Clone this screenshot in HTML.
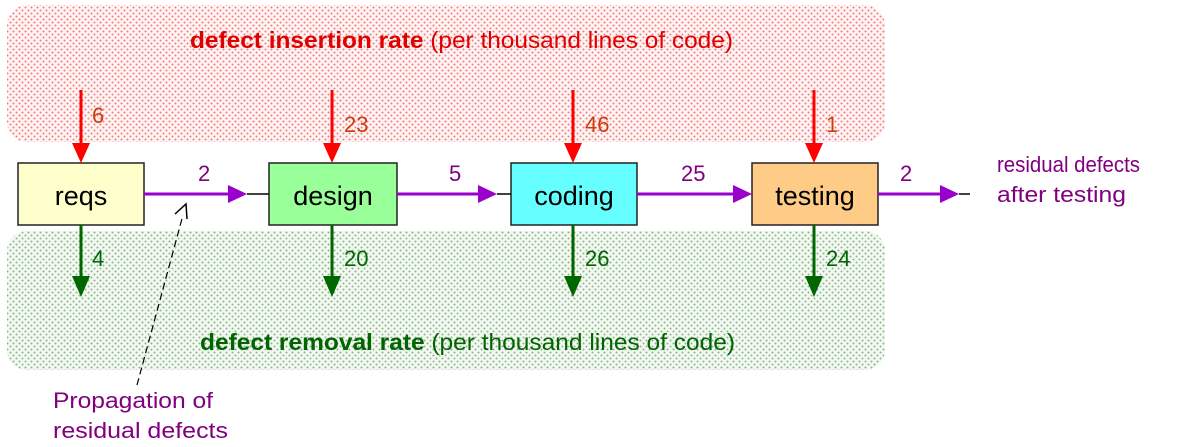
<!DOCTYPE html>
<html><head><style>html,body{margin:0;padding:0;background:#fff}svg{display:block}</style></head>
<body>
<svg width="1179" height="447" viewBox="0 0 1179 447" xmlns="http://www.w3.org/2000/svg" font-family="Liberation Sans, sans-serif">
<defs>
<pattern id="pr" width="6" height="6" patternUnits="userSpaceOnUse"><rect width="6" height="6" fill="#fff4f4"/><circle cx="1.5" cy="1.5" r="1" fill="#f27a7a"/><circle cx="4.5" cy="4.5" r="1" fill="#f27a7a"/></pattern>
<pattern id="pg" width="6" height="6" patternUnits="userSpaceOnUse"><rect width="6" height="6" fill="#f3f8f3"/><circle cx="1.5" cy="1.5" r="1" fill="#86b586"/><circle cx="4.5" cy="4.5" r="1" fill="#86b586"/></pattern>
</defs>
<rect x="7" y="5" width="878" height="137" rx="20" fill="url(#pr)"/>
<rect x="7" y="231" width="878" height="139" rx="20" fill="url(#pg)"/>
<text x="190" y="48" font-size="23" fill="#e00000" textLength="543" lengthAdjust="spacingAndGlyphs"><tspan font-weight="bold">defect insertion rate</tspan> (per thousand lines of code)</text>
<text x="200" y="350" font-size="23" fill="#006400" textLength="535" lengthAdjust="spacingAndGlyphs"><tspan font-weight="bold">defect removal rate</tspan> (per thousand lines of code)</text>

<g stroke="#222" stroke-width="1.5">
<rect x="18" y="163" width="126" height="62" fill="#ffffcc"/>
<rect x="269" y="163" width="128" height="62" fill="#99ff99"/>
<rect x="511" y="163" width="126" height="62" fill="#66ffff"/>
<rect x="752" y="163" width="126" height="62" fill="#ffcc88"/>
</g>
<g font-size="27" fill="#000" text-anchor="middle">
<text x="81" y="205">reqs</text><text x="333" y="205">design</text><text x="574" y="205">coding</text><text x="815" y="205">testing</text>
</g>

<g stroke="#ff0000" stroke-width="3"><line x1="81" y1="90" x2="81" y2="145"/><line x1="332" y1="90" x2="332" y2="145"/><line x1="573" y1="90" x2="573" y2="145"/><line x1="814" y1="90" x2="814" y2="145"/></g>
<g fill="#ff0000"><path d="M72,143h18l-9,20z"/><path d="M323,143h18l-9,20z"/><path d="M564,143h18l-9,20z"/><path d="M805,143h18l-9,20z"/></g>
<g stroke="#006600" stroke-width="3"><line x1="81" y1="225" x2="81" y2="278"/><line x1="332" y1="225" x2="332" y2="278"/><line x1="573" y1="225" x2="573" y2="278"/><line x1="814" y1="225" x2="814" y2="278"/></g>
<g fill="#006600"><path d="M72,276h18l-9,21z"/><path d="M323,276h18l-9,21z"/><path d="M564,276h18l-9,21z"/><path d="M805,276h18l-9,21z"/></g>
<g stroke="#9900cc" stroke-width="3"><line x1="144" y1="194" x2="230" y2="194"/><line x1="397" y1="194" x2="480" y2="194"/><line x1="637" y1="194" x2="735" y2="194"/><line x1="878" y1="194" x2="942" y2="194"/></g>
<g fill="#9900cc"><path d="M228,185v18l19,-9z"/><path d="M478,185v18l19,-9z"/><path d="M733,185v18l19,-9z"/><path d="M940,185v18l19,-9z"/></g>
<g stroke="#000" stroke-width="1.5"><line x1="247" y1="194" x2="269" y2="194"/><line x1="497" y1="194" x2="511" y2="194"/><line x1="959" y1="194" x2="970" y2="194"/></g>

<g font-size="22" fill="#d03a10">
<text x="92" y="123">6</text><text x="344" y="132">23</text><text x="585" y="132">46</text><text x="826" y="132">1</text>
</g>
<g font-size="22" fill="#006600">
<text x="92" y="266">4</text><text x="344" y="266">20</text><text x="585" y="266">26</text><text x="826" y="266">24</text>
</g>
<g font-size="22" fill="#800080">
<text x="198" y="181">2</text><text x="449" y="181">5</text><text x="681" y="181">25</text><text x="900" y="181">2</text>
<text x="997" y="172" textLength="143" lengthAdjust="spacingAndGlyphs">residual defects</text><text x="997" y="202" textLength="129" lengthAdjust="spacingAndGlyphs">after testing</text>
<text x="53" y="408" textLength="160" lengthAdjust="spacingAndGlyphs">Propagation of</text><text x="53" y="438" textLength="175" lengthAdjust="spacingAndGlyphs">residual defects</text>
</g>
<line x1="137" y1="385" x2="183" y2="215" stroke="#000" stroke-width="1.2" stroke-dasharray="7,4"/>
<path d="M175,214 L186,204 L187,219" fill="none" stroke="#000" stroke-width="1.5"/>
</svg>
</body></html>
